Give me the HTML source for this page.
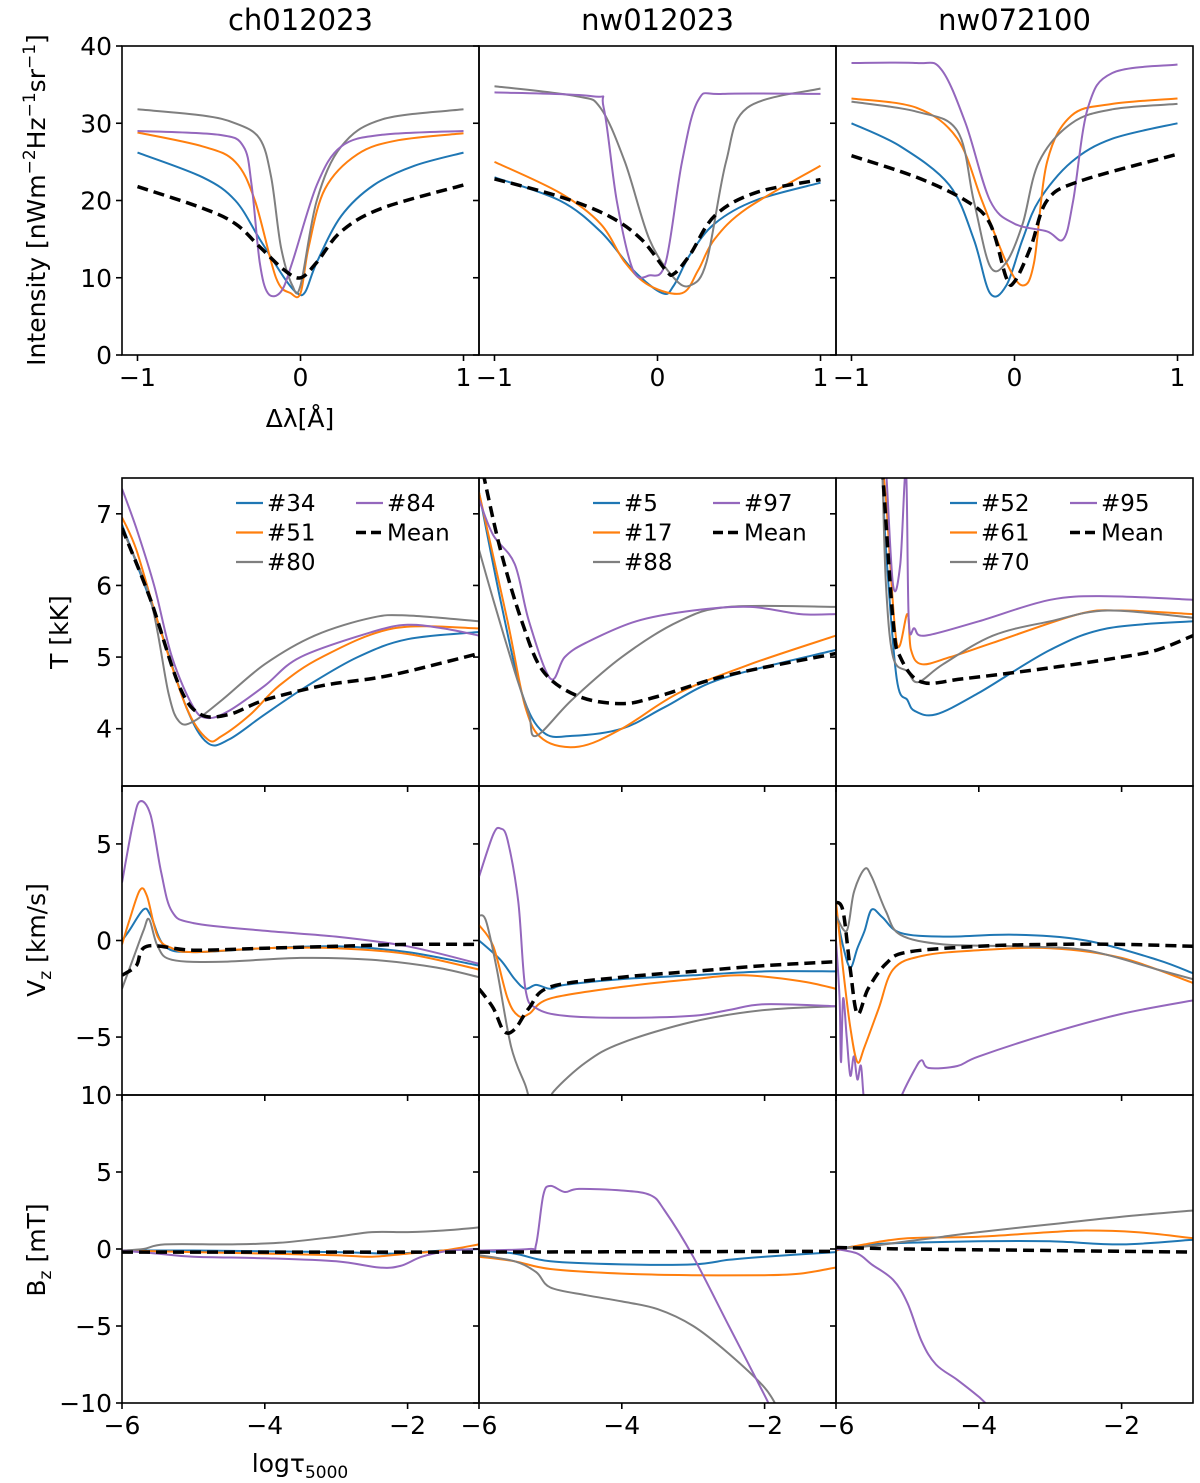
<!DOCTYPE html>
<html><head><meta charset="utf-8">
<style>
html,body{margin:0;padding:0;background:#fff;}
svg{display:block;font-family:"DejaVu Sans","Liberation Sans",sans-serif;}
</style></head>
<body>
<svg id="fig" width="1200" height="1483" viewBox="0 0 1200 1483" xmlns="http://www.w3.org/2000/svg">
<defs id="defs"></defs>
<g id="root"></g>
<text x="45" y="200" font-size="25" text-anchor="middle" transform="rotate(-90 45 200)">Intensity [nWm<tspan font-size="17" dy="-10">−2</tspan><tspan dy="10">Hz</tspan><tspan font-size="17" dy="-10">−1</tspan><tspan dy="10">sr</tspan><tspan font-size="17" dy="-10">−1</tspan><tspan dy="10">]</tspan></text>
<text x="68" y="632" font-size="25" text-anchor="middle" transform="rotate(-90 68 632)">T [kK]</text>
<text x="45" y="940" font-size="25" text-anchor="middle" transform="rotate(-90 45 940)">V<tspan font-size="17" dy="6">z</tspan><tspan dy="-6"> [km/s]</tspan></text>
<text x="45" y="1250" font-size="25" text-anchor="middle" transform="rotate(-90 45 1250)">B<tspan font-size="17" dy="6">z</tspan><tspan dy="-6"> [mT]</tspan></text>
<text x="300" y="427" font-size="25" text-anchor="middle">Δλ[Å]</text>
<text x="300" y="1472" font-size="25" text-anchor="middle">logτ<tspan font-size="17" dy="6">5000</tspan></text>
</svg>
<script>
// ---- Data ----
const panelTitles = ["ch012023","nw012023","nw072100"];
const seriesColors = ["#1f77b4","#ff7f0e","#7f7f7f","#9467bd","#000000"];
const legendLabels = [["#34","#51","#80","#84","Mean"],["#5","#17","#88","#97","Mean"],["#52","#61","#70","#95","Mean"]];
const specTicksX = [-1,0,1];
const specTicksY = [0,10,20,30,40];
const tauTicksX = [-6,-4,-2];
const tTicksY = [4,5,6,7];
const vTicksY = [-5,0,5];
const bTicksY = [-10,-5,0,5,10];

// Intensity profiles [dlambda, I]
const spec1Blue=[[-1,26.2],[-0.6,23],[-0.4,20],[-0.25,15],[-0.1,10],[-0.02,8],[0.03,8.2],[0.1,12],[0.25,18],[0.45,22],[0.7,24.5],[1,26.2]];
const spec1Orange=[[-1,28.8],[-0.6,27],[-0.4,25],[-0.28,20],[-0.15,10],[-0.06,8],[0.0,8],[0.05,14],[0.15,21.5],[0.35,26],[0.6,27.8],[1,28.7]];
const spec1Gray=[[-1,31.8],[-0.6,31],[-0.4,30],[-0.25,28],[-0.18,23],[-0.12,14],[-0.05,9],[0.0,9],[0.1,20],[0.25,27],[0.5,30.5],[1,31.8]];
const spec1Purple=[[-1,29],[-0.5,28.5],[-0.35,27],[-0.3,22],[-0.25,12],[-0.2,8],[-0.12,8.2],[-0.05,12],[0.1,22],[0.25,27],[0.5,28.5],[1,29]];
const spec1Mean=[[-1,21.8],[-0.6,19],[-0.4,17],[-0.25,14],[-0.1,11],[0.0,10],[0.1,12],[0.25,16],[0.5,19],[1,22]];

const spec2Blue=[[-1,23],[-0.6,20],[-0.35,16],[-0.15,11],[0.03,8],[0.1,9],[0.2,13],[0.35,17],[0.6,20],[1,22.3]];
const spec2Orange=[[-1,25],[-0.6,21],[-0.35,17],[-0.2,12],[-0.05,9],[0.15,8],[0.25,11],[0.35,15],[0.55,19],[1,24.5]];
const spec2Gray=[[-1,34.8],[-0.5,33.5],[-0.35,32],[-0.2,25],[-0.05,15],[0.1,10],[0.2,9],[0.3,12],[0.42,25],[0.55,32],[1,34.5]];
const spec2Purple=[[-1,34],[-0.4,33.5],[-0.33,32],[-0.25,20],[-0.15,11],[-0.05,10.3],[0.05,12],[0.15,25],[0.25,33],[0.4,33.8],[1,33.8]];
const spec2Mean=[[-1,22.8],[-0.6,20.5],[-0.3,18],[-0.1,15],[0.05,11],[0.1,10.5],[0.2,13],[0.35,18],[0.6,21],[1,22.7]];

const spec3Blue=[[-1,30],[-0.7,27],[-0.4,22],[-0.25,15],[-0.15,8],[-0.05,9],[0.05,15],[0.15,20],[0.35,25],[0.6,28],[1,30]];
const spec3Orange=[[-1,33.2],[-0.6,32],[-0.35,28],[-0.2,20],[-0.05,12],[0.05,9],[0.12,12],[0.2,25],[0.35,31],[0.6,32.5],[1,33.2]];
const spec3Gray=[[-1,32.8],[-0.6,31.5],[-0.35,29],[-0.25,20],[-0.15,11.5],[-0.05,12],[0.05,17],[0.15,25],[0.35,30],[0.6,31.8],[1,32.5]];
const spec3Purple=[[-1,37.8],[-0.6,37.8],[-0.45,37],[-0.3,30],[-0.15,20],[0.0,17],[0.2,16],[0.3,15],[0.36,20],[0.45,32],[0.6,36.5],[1,37.6]];
const spec3Mean=[[-1,25.8],[-0.6,23],[-0.3,20],[-0.15,17],[-0.05,10],[0.0,9.5],[0.1,14],[0.2,20],[0.4,22.5],[1,26]];

// Temperature [log tau, T kK]
const temp1Blue=[[-6,6.85],[-5.5,5.5],[-5.1,4.3],[-4.8,3.8],[-4.5,3.85],[-4.0,4.2],[-3.4,4.6],[-2.7,5.0],[-2.0,5.25],[-1,5.35]];
const temp1Orange=[[-6,6.95],[-5.8,6.5],[-5.5,5.5],[-5.1,4.3],[-4.8,3.85],[-4.6,3.9],[-4.2,4.2],[-3.8,4.6],[-3.2,5.0],[-2.2,5.4],[-1,5.4]];
const temp1Gray=[[-6,6.8],[-5.6,5.8],[-5.35,4.5],[-5.2,4.1],[-5.0,4.1],[-4.6,4.4],[-4.0,4.9],[-3.3,5.3],[-2.5,5.55],[-2,5.58],[-1,5.5]];
const temp1Purple=[[-6,7.35],[-5.8,6.8],[-5.55,6.0],[-5.3,5.0],[-5.0,4.3],[-4.8,4.15],[-4.5,4.25],[-4.0,4.6],[-3.5,5.0],[-2.5,5.35],[-2.0,5.45],[-1.5,5.4],[-1,5.3]];
const temp1Mean=[[-6,6.8],[-5.6,5.8],[-5.2,4.6],[-4.9,4.2],[-4.5,4.2],[-4.0,4.4],[-3.2,4.6],[-2.5,4.7],[-2.0,4.8],[-1,5.05]];

const temp2Blue=[[-6,7.3],[-5.7,5.8],[-5.4,4.5],[-5.1,3.95],[-4.7,3.9],[-4.0,4.0],[-3.4,4.3],[-2.6,4.7],[-1,5.1]];
const temp2Orange=[[-6,7.3],[-5.6,5.5],[-5.35,4.3],[-5.1,3.85],[-4.6,3.75],[-4.0,4.0],[-3.2,4.5],[-2.2,4.9],[-1,5.3]];
const temp2Gray=[[-6,6.5],[-5.8,5.8],[-5.5,4.8],[-5.3,4.2],[-5.2,3.9],[-4.7,4.4],[-4.0,5.0],[-3.2,5.5],[-2.5,5.7],[-1,5.7]];
const temp2Purple=[[-6,7.2],[-5.8,6.7],[-5.5,6.3],[-5.3,5.5],[-5.0,4.7],[-4.8,5.0],[-4.5,5.2],[-3.8,5.5],[-3,5.65],[-2.2,5.7],[-1.5,5.6],[-1,5.6]];
const temp2Mean=[[-6,7.8],[-5.95,7.6],[-5.7,6.5],[-5.4,5.5],[-5.1,4.8],[-4.6,4.45],[-4.0,4.35],[-3.5,4.45],[-2.5,4.75],[-1,5.05]];

const temp3Blue=[[-5.35,7.6],[-5.3,6.5],[-5.15,4.7],[-5.0,4.4],[-4.9,4.25],[-4.6,4.2],[-4.0,4.5],[-3.0,5.1],[-2.2,5.4],[-1,5.5]];
const temp3Orange=[[-5.35,7.6],[-5.3,7.2],[-5.15,5.2],[-5.0,5.6],[-4.95,5.1],[-4.8,4.9],[-4.4,5.0],[-3.8,5.2],[-2.6,5.6],[-2,5.65],[-1,5.6]];
const temp3Gray=[[-5.35,7.6],[-5.3,6.0],[-5.2,5.0],[-5.0,4.8],[-4.85,4.65],[-4.5,4.9],[-3.8,5.3],[-3.0,5.5],[-2.2,5.65],[-1,5.55]];
const temp3Purple=[[-5.35,7.6],[-5.3,7.6],[-5.2,6.0],[-5.1,6.3],[-5.02,7.6],[-4.98,5.5],[-4.9,5.4],[-4.75,5.3],[-4.0,5.5],[-3.0,5.8],[-2.2,5.85],[-1,5.8]];
const temp3Mean=[[-5.38,7.8],[-5.35,7.6],[-5.2,5.5],[-5.1,5.0],[-4.8,4.65],[-4.2,4.7],[-3.0,4.85],[-2.0,5.0],[-1.5,5.1],[-1,5.3]];

// Vertical velocity [log tau, km/s]
const vel1Blue=[[-6,0.0],[-5.9,0.5],[-5.7,1.6],[-5.6,1.3],[-5.4,-0.3],[-5.0,-0.6],[-4.0,-0.4],[-3.0,-0.3],[-2.0,-0.6],[-1,-1.3]];
const vel1Orange=[[-6,-0.2],[-5.9,1.0],[-5.75,2.6],[-5.65,2.3],[-5.5,0.2],[-5.3,-0.4],[-5,-0.6],[-4,-0.4],[-3,-0.4],[-2,-0.7],[-1,-1.5]];
const vel1Gray=[[-6,-2.5],[-5.85,-1.0],[-5.7,0.5],[-5.62,1.1],[-5.5,-0.3],[-5.3,-1.0],[-4.6,-1.1],[-3.5,-0.9],[-2.5,-1.0],[-1.6,-1.4],[-1,-1.9]];
const vel1Purple=[[-6,3.0],[-5.85,6.0],[-5.75,7.2],[-5.6,6.5],[-5.45,3.5],[-5.3,1.5],[-5.0,0.9],[-4.0,0.5],[-3.0,0.2],[-2.0,-0.3],[-1,-1.2]];
const vel1Mean=[[-6,-1.8],[-5.8,-1.3],[-5.65,-0.3],[-5.0,-0.5],[-4.0,-0.4],[-3.0,-0.3],[-2,-0.2],[-1,-0.2]];

const vel2Blue=[[-6,0.0],[-5.7,-1.0],[-5.5,-2.0],[-5.35,-2.5],[-5.2,-2.3],[-5.0,-2.5],[-4.8,-2.3],[-4.0,-2.0],[-3.0,-1.8],[-2.0,-1.6],[-1,-1.6]];
const vel2Orange=[[-6,0.8],[-5.8,-0.3],[-5.6,-3.0],[-5.45,-3.9],[-5.3,-3.8],[-5.0,-3.0],[-4.0,-2.4],[-3.0,-2.0],[-2.3,-1.8],[-1.5,-2.1],[-1,-2.5]];
const vel2Gray=[[-6,1.3],[-5.9,1.0],[-5.75,-1.5],[-5.55,-5.5],[-5.35,-7.5],[-5.25,-8.6],[-5.05,-8.6],[-4.95,-7.8],[-4.5,-6.3],[-4.0,-5.3],[-3.0,-4.2],[-2.0,-3.6],[-1,-3.4]];
const vel2Purple=[[-6,3.3],[-5.8,5.5],[-5.7,5.8],[-5.6,5.2],[-5.45,2.0],[-5.35,-2.5],[-5.2,-3.5],[-4.8,-3.9],[-4.0,-4.0],[-3.0,-3.9],[-2.5,-3.6],[-2,-3.3],[-1,-3.4]];
const vel2Mean=[[-6,-2.5],[-5.8,-3.5],[-5.65,-4.7],[-5.5,-4.6],[-5.3,-3.5],[-5.0,-2.4],[-4.0,-1.9],[-3.0,-1.6],[-2.0,-1.3],[-1,-1.1]];

const vel3Blue=[[-6,1.5],[-5.9,-0.3],[-5.8,-1.4],[-5.7,-0.4],[-5.6,0.5],[-5.5,1.6],[-5.35,1.2],[-5.1,0.4],[-4.5,0.2],[-3.5,0.3],[-2.5,0.0],[-1.5,-1.0],[-1,-1.7]];
const vel3Orange=[[-6,2.0],[-5.9,-1.5],[-5.8,-4.5],[-5.7,-6.3],[-5.6,-5.5],[-5.4,-3.5],[-5.2,-1.5],[-4.8,-0.8],[-4.0,-0.5],[-3.0,-0.4],[-2.0,-0.9],[-1,-2.2]];
const vel3Gray=[[-6,1.3],[-5.85,0.5],[-5.75,2.5],[-5.6,3.7],[-5.5,3.3],[-5.3,1.5],[-5.1,0.3],[-4.5,-0.2],[-3.5,-0.3],[-2.5,-0.5],[-1.5,-1.5],[-1,-2.0]];
const vel3Purple=[[-6,0.0],[-5.95,-3],[-5.93,-6.3],[-5.9,-3],[-5.85,-5],[-5.8,-7],[-5.75,-6],[-5.7,-7.2],[-5.65,-6.5],[-5.6,-8.5],[-5.5,-9.5],[-5.2,-9.5],[-5.1,-8.2],[-4.9,-6.7],[-4.8,-6.2],[-4.7,-6.6],[-4.3,-6.5],[-4.0,-6.0],[-3.0,-4.8],[-2,-3.8],[-1,-3.1]];
const vel3Mean=[[-6,2.0],[-5.9,1.5],[-5.8,-1.5],[-5.7,-3.8],[-5.55,-2.5],[-5.3,-1.2],[-5.0,-0.6],[-4.0,-0.3],[-3.0,-0.2],[-2.0,-0.2],[-1,-0.3]];

// Magnetic field [log tau, mT]
const mag1Blue=[[-6,-0.1],[-5,-0.1],[-3,-0.2],[-2.2,-0.3],[-1.5,-0.1],[-1,0.0]];
const mag1Orange=[[-6,-0.1],[-5,-0.2],[-4,-0.3],[-3,-0.4],[-2.5,-0.5],[-2,-0.3],[-1.5,-0.1],[-1,0.3]];
const mag1Gray=[[-6,-0.1],[-5.7,0.0],[-5.4,0.3],[-4.5,0.3],[-3.8,0.4],[-3.0,0.8],[-2.5,1.1],[-2.0,1.1],[-1.5,1.2],[-1,1.4]];
const mag1Purple=[[-6,-0.1],[-5.5,-0.3],[-5.0,-0.5],[-4.0,-0.6],[-3.0,-0.8],[-2.4,-1.2],[-2.1,-1.1],[-1.8,-0.5],[-1.4,-0.1],[-1,0.0]];
const mag1Mean=[[-6,-0.2],[-1,-0.2]];

const mag2Blue=[[-6,-0.1],[-5.5,-0.3],[-5.0,-0.8],[-4.0,-1.0],[-3.0,-1.0],[-2.5,-0.7],[-2.0,-0.5],[-1,-0.2]];
const mag2Orange=[[-6,-0.5],[-5.5,-0.8],[-5.0,-1.3],[-4.0,-1.6],[-3.0,-1.7],[-2.0,-1.7],[-1.5,-1.6],[-1,-1.2]];
const mag2Gray=[[-6,-0.4],[-5.5,-0.8],[-5.2,-1.5],[-5.0,-2.5],[-4.5,-3.0],[-4.0,-3.4],[-3.5,-3.9],[-3.0,-5.0],[-2.5,-6.8],[-2.0,-9.0],[-1.8,-10.5]];
const mag2Purple=[[-6,-0.1],[-5.3,0.0],[-5.2,0.3],[-5.1,3.5],[-5.0,4.1],[-4.8,3.7],[-4.6,3.9],[-4.0,3.8],[-3.6,3.5],[-3.4,2.5],[-3.0,-0.5],[-2.5,-5],[-2.0,-9.5],[-1.9,-10.5]];
const mag2Mean=[[-6,-0.2],[-1,-0.15]];

const mag3Blue=[[-6,0.0],[-5.5,0.3],[-5.0,0.4],[-4.0,0.5],[-3.0,0.5],[-2.0,0.3],[-1,0.6]];
const mag3Orange=[[-6,-0.1],[-5.6,0.3],[-5.0,0.7],[-4.0,0.8],[-3.0,1.1],[-2.5,1.2],[-1.8,1.1],[-1,0.7]];
const mag3Gray=[[-6,0.0],[-5.5,0.2],[-5.0,0.5],[-4.5,0.8],[-4.0,1.1],[-3.0,1.6],[-2.0,2.1],[-1,2.5]];
const mag3Purple=[[-6,0.0],[-5.7,-0.3],[-5.5,-1.0],[-5.2,-2.0],[-5.0,-3.5],[-4.8,-6.0],[-4.6,-7.5],[-4.3,-8.5],[-4.0,-9.6],[-3.8,-10.5]];
const mag3Mean=[[-6,0.1],[-5,0.0],[-3,-0.1],[-1,-0.2]];

const specSeries=[[spec1Blue,spec1Orange,spec1Gray,spec1Purple,spec1Mean],[spec2Blue,spec2Orange,spec2Gray,spec2Purple,spec2Mean],[spec3Blue,spec3Orange,spec3Gray,spec3Purple,spec3Mean]];
const tempSeries=[[temp1Blue,temp1Orange,temp1Gray,temp1Purple,temp1Mean],[temp2Blue,temp2Orange,temp2Gray,temp2Purple,temp2Mean],[temp3Blue,temp3Orange,temp3Gray,temp3Purple,temp3Mean]];
const velSeries=[[vel1Blue,vel1Orange,vel1Gray,vel1Purple,vel1Mean],[vel2Blue,vel2Orange,vel2Gray,vel2Purple,vel2Mean],[vel3Blue,vel3Orange,vel3Gray,vel3Purple,vel3Mean]];
const magSeries=[[mag1Blue,mag1Orange,mag1Gray,mag1Purple,mag1Mean],[mag2Blue,mag2Orange,mag2Gray,mag2Purple,mag2Mean],[mag3Blue,mag3Orange,mag3Gray,mag3Purple,mag3Mean]];
const seriesNames=["blue","orange","gray","purple","mean"];

// ---- Layout ----
const NS="http://www.w3.org/2000/svg";
const root=document.getElementById('root');
const defs=document.getElementById('defs');
const colX=[122,479,836,1193];
function mk(tag,parent,attrs){const e=document.createElementNS(NS,tag);for(const k in attrs)e.setAttribute(k,attrs[k]);parent.appendChild(e);return e;}

function smoothPath(pts){
  if(pts.length<3){return 'M'+pts.map(p=>p[0].toFixed(1)+','+p[1].toFixed(1)).join('L');}
  let d='M'+pts[0][0].toFixed(1)+','+pts[0][1].toFixed(1);
  for(let i=0;i<pts.length-1;i++){
    const p0=pts[Math.max(0,i-1)],p1=pts[i],p2=pts[i+1],p3=pts[Math.min(pts.length-1,i+2)];
    const t=0.5/3;
    const c1x=p1[0]+(p2[0]-p0[0])*t,c1y=p1[1]+(p2[1]-p0[1])*t;
    const c2x=p2[0]-(p3[0]-p1[0])*t,c2y=p2[1]-(p3[1]-p1[1])*t;
    d+='C'+c1x.toFixed(1)+','+c1y.toFixed(1)+' '+c2x.toFixed(1)+','+c2y.toFixed(1)+' '+p2[0].toFixed(1)+','+p2[1].toFixed(1);
  }
  return d;
}

let clipId=0;
function panel(rowName,col,top,bottom,xd,yd,series,xticks,yticks,showXLabels,showYLabels){
  const x0=colX[col],x1=colX[col+1];
  const sx=v=>x0+(v-xd[0])/(xd[1]-xd[0])*(x1-x0);
  const sy=v=>bottom-(v-yd[0])/(yd[1]-yd[0])*(bottom-top);
  const g=mk('g',root,{});
  
  
  const cid='clip'+(clipId++);
  const cp=mk('clipPath',defs,{id:cid});
  mk('rect',cp,{x:x0,y:top,width:x1-x0,height:bottom-top});
  const lines=mk('g',g,{'clip-path':'url(#'+cid+')'});
  series.forEach((s,i)=>{
    const pts=s.map(p=>[sx(p[0]),sy(p[1])]);
    const isMean=i===4;
    const path=mk('path',lines,{d:smoothPath(pts),fill:'none',stroke:seriesColors[i],'stroke-width':isMean?3.5:2,'stroke-linejoin':'round'});
    if(isMean)path.setAttribute('stroke-dasharray','11,6');
    
    
  });
  xticks.forEach(t=>{
    const x=sx(t);
    mk('line',g,{x1:x,x2:x,y1:bottom,y2:bottom+6,stroke:'#000','stroke-width':1.6});
    if(showXLabels){
      const tx=mk('text',g,{x:x,y:bottom+31,'font-size':25,'text-anchor':'middle',fill:'#000'});
      tx.textContent=t<0?'\u2212'+Math.abs(t):String(t);
      
      
    }
  });
  yticks.forEach(t=>{
    const y=sy(t);
    if(y<top-1||y>bottom+1)return;
    mk('line',g,{x1:x0-6,x2:x0,y1:y,y2:y,stroke:'#000','stroke-width':1.6});
    if(showYLabels){
      const tx=mk('text',g,{x:x0-10,y:y+9,'font-size':25,'text-anchor':'end',fill:'#000'});
      tx.textContent=t<0?'\u2212'+Math.abs(t):String(t);
      
      
    }
  });
  mk('rect',g,{x:x0,y:top,width:x1-x0,height:bottom-top,fill:'none',stroke:'#000','stroke-width':1.6});
}

for(let c=0;c<3;c++){
  panel('intensity',c,46,355,[-1.095,1.095],[0,40],specSeries[c],specTicksX,specTicksY,true,c===0);
  panel('temperature',c,478,786,[-6,-1],[3.2,7.5],tempSeries[c],tauTicksX,tTicksY,false,c===0);
  panel('velocity',c,786,1095,[-6,-1],[-8,8],velSeries[c],tauTicksX,vTicksY,false,c===0);
  panel('magnetic',c,1095,1403,[-6,-1],[-10,10],magSeries[c],tauTicksX,bTicksY,true,c===0);
  const tt=mk('text',root,{x:(colX[c]+colX[c+1])/2,y:30,'font-size':29,'text-anchor':'middle',fill:'#000'});
  tt.textContent=panelTitles[c];
  
  
  const lg=mk('g',root,{});
  
  
  const order=[[0,0,0],[1,0,1],[2,0,2],[3,1,0],[4,1,1]];
  order.forEach(o=>{
    const i=o[0];
    const lx=colX[c]+(o[1]===0?114:234);
    const ly=503+o[2]*29.5;
    const ln=mk('line',lg,{x1:lx,x2:lx+27,y1:ly,y2:ly,stroke:seriesColors[i],'stroke-width':i===4?3.5:2.2});
    if(i===4)ln.setAttribute('stroke-dasharray','10,5');
    const tx=mk('text',lg,{x:lx+31,y:ly+8,'font-size':23,fill:'#000'});
    tx.textContent=legendLabels[c][i];
    
    
  });
}
</script>
</body></html>
